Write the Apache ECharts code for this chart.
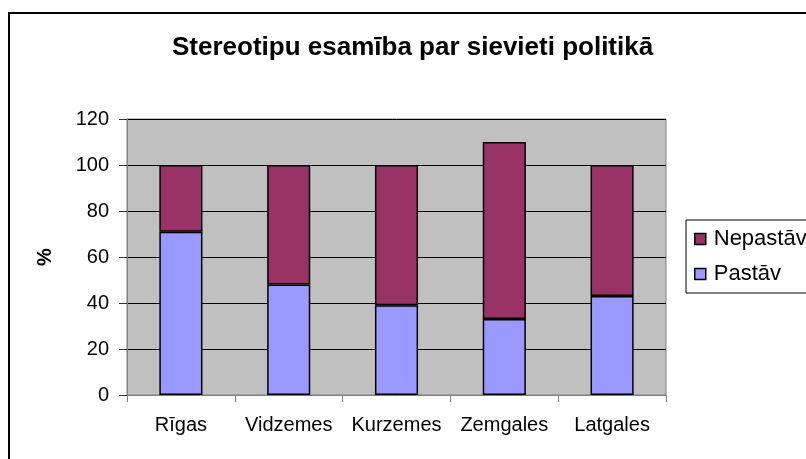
<!DOCTYPE html>
<html>
<head>
<meta charset="utf-8">
<script src="https://cdn.jsdelivr.net/npm/echarts@6/dist/echarts.min.js"></script>
<style>
  html, body { margin: 0; padding: 0; background: #fff; }
  #chart { width: 806px; height: 459px; }
</style>
</head>
<body>
<div id="chart"></div>
<script>
// reģionu kategorijas un vērtības (%)
var regions = ['Rīgas', 'Vidzemes', 'Kurzemes', 'Zemgales', 'Latgales'];
var pastav = [71, 48, 39, 33, 43];
var nepastav = [29, 52, 61, 77, 57];
var yTicks = { min: 0, max: 120, step: 20 };

var myChart = echarts.init(document.getElementById('chart'));
var font = 'Liberation Sans, Arial, sans-serif';

var option = {
    animation: false,
    backgroundColor: '#fff',
    title: {
        text: 'Stereotipu esamība par sievieti politikā',
        left: 172,
        top: 35,
        padding: 0,
        textStyle: { fontFamily: font, fontSize: 26, fontWeight: 'bold', color: '#000' }
    },
    graphic: [{
        type: 'rect',
        shape: { x: 9, y: 13, width: 820, height: 470 },
        style: { fill: 'none', stroke: '#000', lineWidth: 2 },
        silent: true
    }],
    legend: {
        data: ['Nepastāv', 'Pastāv'],
        orient: 'vertical',
        left: 686,
        top: 220,
        itemWidth: 11,
        itemHeight: 11,
        itemGap: 13,
        padding: [8, 40, 8, 8],
        borderColor: '#000',
        borderWidth: 1,
        icon: 'rect',
        itemStyle: { borderColor: '#000', borderWidth: 1.5 },
        textStyle: { fontFamily: font, fontSize: 22, color: '#000', padding: [0, 0, 0, 3] }
    },
    grid: {
        left: 127,
        right: 140,
        top: 119,
        bottom: 64,
        show: true,
        backgroundColor: '#C0C0C0',
        borderColor: '#808080',
        borderWidth: 1
    },
    xAxis: {
        type: 'category',
        data: regions,
        axisLine: { lineStyle: { color: '#808080', width: 1 } },
        axisTick: { show: true, length: 7, inside: false, lineStyle: { color: '#808080' } },
        axisLabel: { interval: 0, margin: 20, fontFamily: font, fontSize: 20, color: '#000' }
    },
    yAxis: {
        type: 'value',
        name: '%',
        nameLocation: 'middle',
        nameGap: 72,
        nameRotate: 90,
        nameTextStyle: { fontFamily: font, fontSize: 20, fontWeight: 'bold', color: '#000' },
        min: yTicks.min,
        max: yTicks.max,
        interval: yTicks.step,
        axisLine: { show: true, lineStyle: { color: '#808080', width: 1 } },
        axisTick: { show: true, length: 8, lineStyle: { color: '#333' } },
        axisLabel: { margin: 18, fontFamily: font, fontSize: 20, color: '#000' },
        splitLine: { show: true, lineStyle: { color: '#000', width: 1 } }
    },
    series: [{
        name: 'Pastāv',
        type: 'bar',
        stack: 'total',
        barWidth: '40%',
        data: pastav,
        itemStyle: { color: '#9999FF', borderColor: '#000', borderWidth: 1.5 }
    }, {
        name: 'Nepastāv',
        type: 'bar',
        stack: 'total',
        barWidth: '40%',
        data: nepastav,
        itemStyle: { color: '#993366', borderColor: '#000', borderWidth: 1.5 }
    }]
};

myChart.setOption(option);
</script>
</body>
</html>
